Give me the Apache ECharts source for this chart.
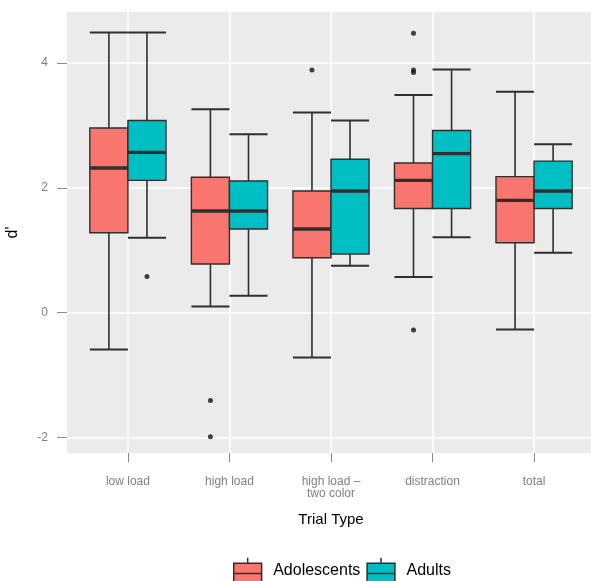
<!DOCTYPE html>
<html>
<head>
<meta charset="utf-8">
<script src="https://cdn.jsdelivr.net/npm/echarts@6/dist/echarts.min.js"></script>
<style>
  html, body { margin: 0; padding: 0; background: #ffffff; }
  #chart { width: 591px; height: 581px; }
</style>
</head>
<body>
<div id="chart"></div>
<script>
// Trial types along the x axis
const categories = ['low load', 'high load', 'high load \u2013\ntwo color', 'distraction', 'total'];

// Box statistics per trial type: [lower whisker, Q1, median, Q3, upper whisker]
const adolescents = [
  [-0.59, 1.28, 2.32, 2.96, 4.49],
  [0.10, 0.78, 1.63, 2.17, 3.26],
  [-0.72, 0.88, 1.34, 1.95, 3.21],
  [0.57, 1.67, 2.12, 2.40, 3.49],
  [-0.27, 1.12, 1.80, 2.18, 3.54]
];
const adults = [
  [1.20, 2.12, 2.57, 3.08, 4.49],
  [0.27, 1.34, 1.63, 2.11, 2.86],
  [0.75, 0.94, 1.95, 2.46, 3.08],
  [1.21, 1.67, 2.55, 2.92, 3.90],
  [0.96, 1.67, 1.95, 2.43, 2.70]
];

// Outliers: [trial type index, d']
const adolescentOutliers = [[1, -1.41], [1, -1.99], [2, 3.89], [3, 4.48], [3, 3.89], [3, 3.85], [3, -0.28]];
const adultOutliers = [[0, 0.58]];

// Axis ticks
const yTicks = [-2, 0, 2, 4];
const xTicks = [1, 2, 3, 4, 5];

const groups = ['Adolescents', 'Adults'];
const colors = { Adolescents: '#F8766D', Adults: '#00BFC4' };
const edge = '#2f2f2f';

// Dodged boxes: each group takes half of a 0.75-wide slot
const DODGE = 0.75 / 2;
const HALF = DODGE / 2;
const offsets = { Adolescents: -DODGE / 2, Adults: DODGE / 2 };

function boxData(stats) {
  return stats.map((s, i) => [i + 1].concat(s));
}
function outlierData(points, offset) {
  return points.map(p => [p[0] + 1 + offset, p[1]]);
}

function makeRender(offset, color) {
  return function (params, api) {
    const c = api.value(0) + offset;
    const lo = api.value(1), q1 = api.value(2), md = api.value(3), q3 = api.value(4), hi = api.value(5);
    const P = (x, y) => api.coord([x, y]);
    const seg = (a, b, w) => ({
      type: 'line',
      shape: { x1: a[0], y1: a[1], x2: b[0], y2: b[1] },
      style: { stroke: edge, lineWidth: w, lineCap: 'butt' }
    });
    const tl = P(c - HALF, q3), br = P(c + HALF, q1);
    return {
      type: 'group',
      children: [
        seg(P(c, lo), P(c, q1), 1.6),
        seg(P(c, q3), P(c, hi), 1.6),
        seg(P(c - HALF, lo), P(c + HALF, lo), 2),
        seg(P(c - HALF, hi), P(c + HALF, hi), 2),
        {
          type: 'rect',
          shape: { x: tl[0], y: tl[1], width: br[0] - tl[0], height: br[1] - tl[1] },
          style: { fill: color, stroke: edge, lineWidth: 1.4 }
        },
        seg(P(c - HALF, md), P(c + HALF, md), 3.4)
      ]
    };
  };
}

const legendIcon = 'path://M0,6 H30 V28 H0 Z M0,17 H30 M15,0 V6';
const font = '"Liberation Sans", Arial, sans-serif';

const chart = echarts.init(document.getElementById('chart'), null, { renderer: 'canvas' });
chart.setOption({
  backgroundColor: '#ffffff',
  animation: false,
  textStyle: { fontFamily: font },
  grid: {
    left: 67, right: -4, top: 12, bottom: 128,
    outerBoundsMode: 'none',
    containLabel: false,
    show: true, backgroundColor: '#EBEBEB', borderWidth: 0
  },
  legend: {
    left: 228, top: 552,
    itemWidth: 29, itemHeight: 26, itemGap: 6,
    textStyle: { fontFamily: font, fontSize: 16, color: '#000', padding: [8, 0, 0, 6] },
    data: groups.map(g => ({
      name: g,
      icon: legendIcon,
      itemStyle: { color: colors[g], borderColor: edge, borderWidth: 1.5 }
    }))
  },
  xAxis: {
    type: 'value',
    min: 0.4, max: 5.6,
    name: 'Trial Type',
    nameLocation: 'middle',
    nameGap: 59,
    nameTextStyle: { fontFamily: font, fontSize: 15, color: '#000' },
    axisLine: { show: false, onZero: false },
    axisTick: { show: true, length: 9, customValues: xTicks, lineStyle: { color: '#8a8a8a', width: 1 } },
    axisLabel: {
      customValues: xTicks,
      margin: 23,
      color: '#808080',
      fontSize: 12,
      lineHeight: 12,
      fontFamily: font,
      formatter: v => categories[Math.round(v) - 1] || ''
    },
    splitLine: { show: true, lineStyle: { color: '#ffffff', width: 1.6 } }
  },
  yAxis: {
    type: 'value',
    min: -2.25, max: 4.82,
    name: "d'",
    nameLocation: 'middle',
    nameRotate: 90,
    nameGap: 46,
    nameTextStyle: { fontFamily: font, fontSize: 16, color: '#000' },
    axisLine: { show: false, onZero: false },
    axisTick: { show: true, length: 10, customValues: yTicks, lineStyle: { color: '#8a8a8a', width: 1 } },
    axisLabel: {
      customValues: yTicks,
      margin: 19,
      color: '#808080',
      fontSize: 12,
      fontFamily: font,
      formatter: v => String(v)
    },
    splitLine: { show: true, lineStyle: { color: '#ffffff', width: 1.6 } }
  },
  series: [
    {
      name: 'Adolescents',
      type: 'custom',
      itemStyle: { color: colors.Adolescents, borderColor: edge },
      renderItem: makeRender(offsets.Adolescents, colors.Adolescents),
      encode: { x: 0, y: [1, 2, 3, 4, 5] },
      data: boxData(adolescents),
      z: 2
    },
    {
      name: 'Adults',
      type: 'custom',
      itemStyle: { color: colors.Adults, borderColor: edge },
      renderItem: makeRender(offsets.Adults, colors.Adults),
      encode: { x: 0, y: [1, 2, 3, 4, 5] },
      data: boxData(adults),
      z: 2
    },
    {
      name: 'Adolescents outliers',
      type: 'scatter',
      symbolSize: 5,
      itemStyle: { color: '#111' },
      data: outlierData(adolescentOutliers, offsets.Adolescents),
      z: 3
    },
    {
      name: 'Adults outliers',
      type: 'scatter',
      symbolSize: 5,
      itemStyle: { color: '#111' },
      data: outlierData(adultOutliers, offsets.Adults),
      z: 3
    }
  ]
});
</script>
</body>
</html>
